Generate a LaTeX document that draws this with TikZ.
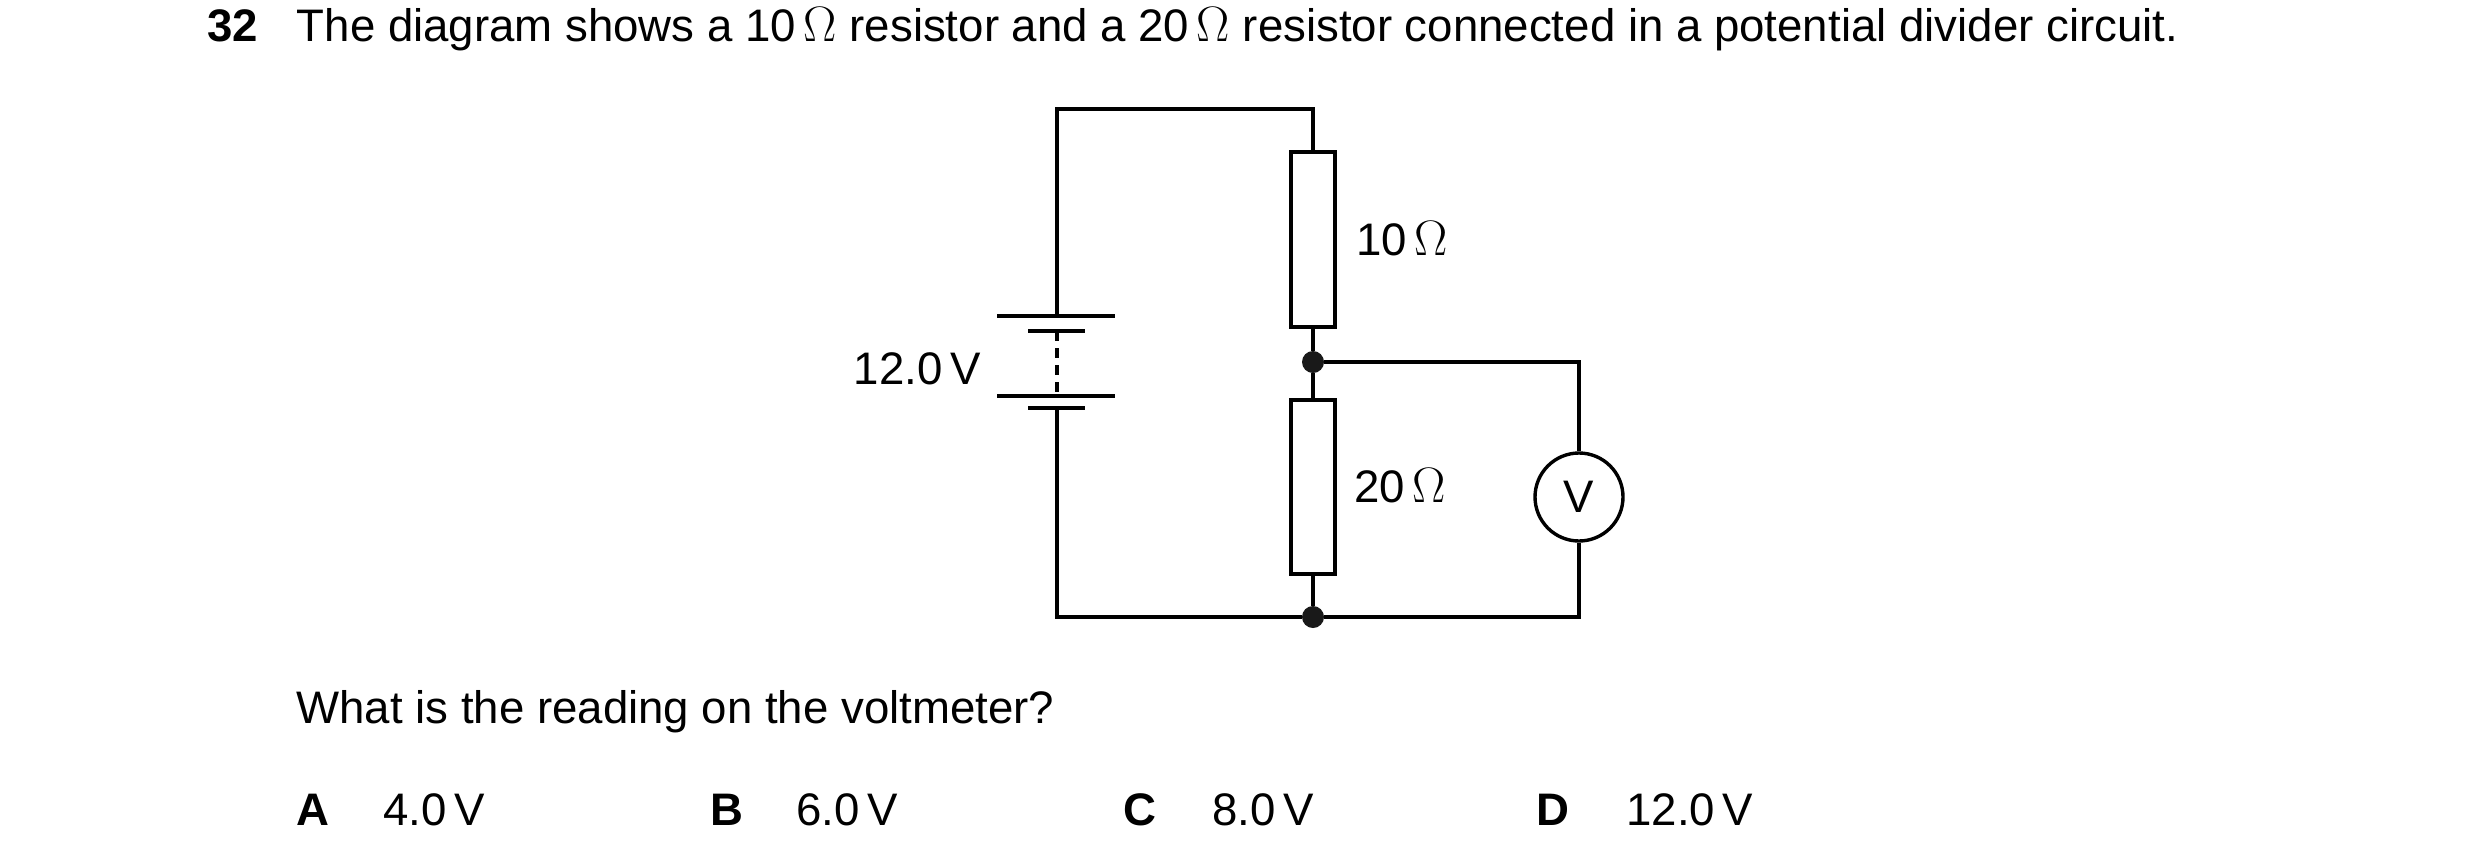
\documentclass[tikz,border=0pt]{standalone}
\usepackage{fontspec}
\setmainfont{Liberation Sans}
\newcommand{\ohm}{\scalebox{1.2}{$\Omega$}}
\begin{document}
\begin{tikzpicture}[x=0.5pt,y=-0.5pt,
  w/.style={line width=1.7pt},
  txt/.style={font=\fontsize{22.8}{26}\selectfont,inner sep=0pt},
  res/.style={draw,line width=1.7pt,minimum width=22pt,inner sep=0pt},
  dot/.style={circle,fill=black!90,inner sep=0pt,minimum size=11pt}]
\useasboundingbox (0,0) rectangle (2480,863);
\node[txt,anchor=west] (q) at (207,29) {\textbf{32}\hspace{0.85em}The diagram shows a 10\,\ohm\ resistor and a 20\,\ohm\ resistor connected in a potential divider circuit.};
\coordinate (tl) at (1057,109);
\coordinate (tr) at (1313,109);
\coordinate (bl) at (1057,617);
\node[dot] (jb) at (1313,617) {};
\node[dot] (jm) at (1313,362) {};
\coordinate (vr) at (1579,362);
\coordinate (vbr) at (1579,617);
\node[res,minimum height=87.5pt] (r1) at (1313,239.5) {};
\node[res,minimum height=87pt] (r2) at (1313,487) {};
\node[draw,circle,line width=1.7pt,minimum size=44pt,inner sep=0pt,txt] (v) at (1579,497) {V};
\coordinate (bt) at (1057,316);
\coordinate (bb) at (1057,408);
\draw[w] (997,316) -- (1115,316);
\draw[line width=2.4pt] (1028,331) -- (1085,331);
\draw[w] (997,396) -- (1115,396);
\draw[line width=2.4pt] (1028,408) -- (1085,408);
\draw[line width=1.7pt,dash pattern=on 5pt off 3.5pt] (1057,331) -- (1057,396);
\draw[w] (bt) -- (tl) -- (tr) -- (r1.north);
\draw[w] (r1.south) -- (jm) -- (r2.north);
\draw[w] (r2.south) -- (jb);
\draw[w] (bb) -- (bl) -- (jb) -- (vbr) -- (v.south);
\draw[w] (jm) -- (vr) -- (v.north);
\node[txt,anchor=east] (l12) at (981,369) {12.0\,V};
\node[txt,anchor=west] (l10) at (1356,239) {10\,\ohm};
\node[txt,anchor=west] (l20) at (1354,486) {20\,\ohm};
\node[txt,anchor=west] (qq) at (296,712) {What is the reading on the voltmeter?};
\node[txt,anchor=west] (a) at (296,810) {\textbf{A}};
\node[txt,anchor=west] (av) at (383,810) {4.0\,V};
\node[txt,anchor=west] (b) at (710,810) {\textbf{B}};
\node[txt,anchor=west] (bv) at (796,810) {6.0\,V};
\node[txt,anchor=west] (c) at (1123,810) {\textbf{C}};
\node[txt,anchor=west] (cv) at (1212,810) {8.0\,V};
\node[txt,anchor=west] (d) at (1536,810) {\textbf{D}};
\node[txt,anchor=west] (dv) at (1626,810) {12.0\,V};
\end{tikzpicture}
\end{document}
